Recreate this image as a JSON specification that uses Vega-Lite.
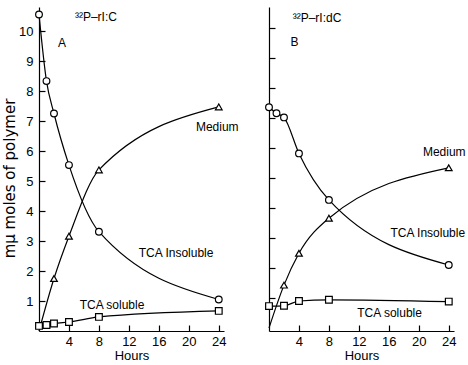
{
  "$schema": "https://vega.github.io/schema/vega-lite/v6.json",
  "background": "white",
  "padding": {"left": 2, "top": 7, "right": 0, "bottom": 0},
  "spacing": 24,
  "config": {
    "view": {"stroke": null},
    "font": "Liberation Sans",
    "axis": {
      "domainColor": "black",
      "tickColor": "black",
      "labelColor": "black",
      "titleColor": "black",
      "grid": false,
      "labelFontSize": 13,
      "titleFontSize": 13,
      "titleFontWeight": "normal",
      "tickSize": -6,
      "domainWidth": 1.2,
      "tickWidth": 1.2,
      "tickCount": 30,
      "format": "d",
      "labelOverlap": false
    }
  },
  "datasets": {
    "pts": [
      {"panel": "A", "series": "TCA Insoluble", "hours": 0, "value": 10.55},
      {"panel": "A", "series": "TCA Insoluble", "hours": 1, "value": 8.33},
      {"panel": "A", "series": "TCA Insoluble", "hours": 2, "value": 7.25},
      {"panel": "A", "series": "TCA Insoluble", "hours": 4, "value": 5.53},
      {"panel": "A", "series": "TCA Insoluble", "hours": 8, "value": 3.31},
      {"panel": "A", "series": "TCA Insoluble", "hours": 24, "value": 1.05},
      {"panel": "A", "series": "Medium", "hours": 0, "value": 0},
      {"panel": "A", "series": "Medium", "hours": 2, "value": 1.75},
      {"panel": "A", "series": "Medium", "hours": 4, "value": 3.16},
      {"panel": "A", "series": "Medium", "hours": 8, "value": 5.37},
      {"panel": "A", "series": "Medium", "hours": 24, "value": 7.47},
      {"panel": "A", "series": "TCA soluble", "hours": 0, "value": 0.17},
      {"panel": "A", "series": "TCA soluble", "hours": 1, "value": 0.2},
      {"panel": "A", "series": "TCA soluble", "hours": 2, "value": 0.25},
      {"panel": "A", "series": "TCA soluble", "hours": 4, "value": 0.3},
      {"panel": "A", "series": "TCA soluble", "hours": 8, "value": 0.47},
      {"panel": "A", "series": "TCA soluble", "hours": 24, "value": 0.67},
      {"panel": "B", "series": "TCA Insoluble", "hours": 0, "value": 7.36},
      {"panel": "B", "series": "TCA Insoluble", "hours": 1, "value": 7.16},
      {"panel": "B", "series": "TCA Insoluble", "hours": 2, "value": 7.02},
      {"panel": "B", "series": "TCA Insoluble", "hours": 4, "value": 5.82},
      {"panel": "B", "series": "TCA Insoluble", "hours": 8, "value": 4.27},
      {"panel": "B", "series": "TCA Insoluble", "hours": 24, "value": 2.1},
      {"panel": "B", "series": "Medium", "hours": 0, "value": 0},
      {"panel": "B", "series": "Medium", "hours": 2, "value": 1.43},
      {"panel": "B", "series": "Medium", "hours": 4, "value": 2.49},
      {"panel": "B", "series": "Medium", "hours": 8, "value": 3.66},
      {"panel": "B", "series": "Medium", "hours": 24, "value": 5.34},
      {"panel": "B", "series": "TCA soluble", "hours": 0, "value": 0.73},
      {"panel": "B", "series": "TCA soluble", "hours": 2, "value": 0.74},
      {"panel": "B", "series": "TCA soluble", "hours": 4, "value": 0.9},
      {"panel": "B", "series": "TCA soluble", "hours": 8, "value": 0.94},
      {"panel": "B", "series": "TCA soluble", "hours": 24, "value": 0.88}
    ],
    "notes": [
      {"panel": "A", "label": "³²P–rI:C", "hours": 4.8, "value": 10.47, "kind": "head"},
      {"panel": "A", "label": "A", "hours": 3.07, "value": 9.6, "kind": "mid"},
      {"panel": "A", "label": "Medium", "hours": 23.8, "value": 6.8, "kind": "mid"},
      {"panel": "A", "label": "TCA Insoluble", "hours": 18.3, "value": 2.6, "kind": "mid"},
      {"panel": "A", "label": "TCA soluble", "hours": 9.75, "value": 0.87, "kind": "mid"},
      {"panel": "B", "label": "³²P–rI:dC", "hours": 3.16, "value": 10.33, "kind": "head"},
      {"panel": "B", "label": "B", "hours": 3.4, "value": 9.53, "kind": "mid"},
      {"panel": "B", "label": "Medium", "hours": 23.4, "value": 5.87, "kind": "mid"},
      {"panel": "B", "label": "TCA Insoluble", "hours": 21.2, "value": 3.17, "kind": "mid"},
      {"panel": "B", "label": "TCA soluble", "hours": 16.1, "value": 0.5, "kind": "mid"}
    ]
  },
  "hconcat": [
    {
      "width": 185,
      "height": 324,
      "layer": [
        {
          "data": {"name": "pts"},
          "transform": [{"filter": "datum.panel === 'A'"}],
          "mark": {"type": "line", "interpolate": "monotone", "color": "black", "strokeWidth": 1.2},
          "encoding": {
            "x": {"field": "hours", "type": "quantitative", "scale": {"domain": [0, 24.7], "nice": false},
              "axis": {"values": [4, 8, 12, 16, 20, 24], "title": "Hours", "labelPadding": 10, "titlePadding": 1, "labelOverlap": false, "labelBound": false}},
            "y": {"field": "value", "type": "quantitative", "scale": {"domain": [0, 10.8], "nice": false, "zero": false},
              "axis": {"values": [1, 2, 3, 4, 5, 6, 7, 8, 9, 10], "title": "mμ moles of polymer", "titleFont": "DejaVu Sans", "titleFontSize": 15, "titleY": 171, "labelPadding": 12, "titlePadding": 1, "labelOverlap": false, "labelBound": false}},
            "detail": {"field": "series"}
          }
        },
        {
          "data": {"name": "pts"},
          "transform": [{"filter": "datum.panel === 'A' && datum.value > 0"}],
          "mark": {"type": "point", "filled": true, "fill": "white", "stroke": "black", "strokeWidth": 1.2, "size": 45, "opacity": 1},
          "encoding": {
            "x": {"field": "hours", "type": "quantitative"},
            "y": {"field": "value", "type": "quantitative"},
            "shape": {"field": "series", "type": "nominal", "scale": {"domain": ["TCA Insoluble", "Medium", "TCA soluble"], "range": ["circle", "triangle-up", "square"]}, "legend": null}
          }
        },
        {
          "data": {"name": "notes"},
          "transform": [{"filter": "datum.panel === 'A' && datum.kind === 'mid'"}],
          "mark": {"type": "text", "fontSize": 12, "align": "center", "baseline": "middle", "color": "black"},
          "encoding": {
            "x": {"field": "hours", "type": "quantitative"},
            "y": {"field": "value", "type": "quantitative"},
            "text": {"field": "label"}
          }
        },
        {
          "data": {"name": "notes"},
          "transform": [{"filter": "datum.panel === 'A' && datum.kind === 'head'"}],
          "mark": {"type": "text", "fontSize": 12, "align": "left", "baseline": "middle", "color": "black"},
          "encoding": {
            "x": {"field": "hours", "type": "quantitative"},
            "y": {"field": "value", "type": "quantitative"},
            "text": {"field": "label"}
          }
        }
      ]
    },
    {
      "width": 185,
      "height": 324,
      "layer": [
        {
          "data": {"name": "pts"},
          "transform": [{"filter": "datum.panel === 'B'"}],
          "mark": {"type": "line", "interpolate": "monotone", "color": "black", "strokeWidth": 1.2},
          "encoding": {
            "x": {"field": "hours", "type": "quantitative", "scale": {"domain": [0, 24.7], "nice": false},
              "axis": {"values": [4, 8, 12, 16, 20, 24], "title": "Hours", "labelPadding": 10, "titlePadding": 1, "labelOverlap": false, "labelBound": false}},
            "y": {"field": "value", "type": "quantitative", "scale": {"domain": [-0.1, 10.7], "nice": false, "zero": false},
              "axis": {"values": [1, 2, 3, 4, 5, 6, 7, 8, 9, 10], "title": null, "labels": false}},
            "detail": {"field": "series"}
          }
        },
        {
          "data": {"name": "pts"},
          "transform": [{"filter": "datum.panel === 'B' && datum.value > 0"}],
          "mark": {"type": "point", "filled": true, "fill": "white", "stroke": "black", "strokeWidth": 1.2, "size": 45, "opacity": 1},
          "encoding": {
            "x": {"field": "hours", "type": "quantitative"},
            "y": {"field": "value", "type": "quantitative"},
            "shape": {"field": "series", "type": "nominal", "scale": {"domain": ["TCA Insoluble", "Medium", "TCA soluble"], "range": ["circle", "triangle-up", "square"]}, "legend": null}
          }
        },
        {
          "data": {"name": "notes"},
          "transform": [{"filter": "datum.panel === 'B' && datum.kind === 'mid'"}],
          "mark": {"type": "text", "fontSize": 12, "align": "center", "baseline": "middle", "color": "black"},
          "encoding": {
            "x": {"field": "hours", "type": "quantitative"},
            "y": {"field": "value", "type": "quantitative"},
            "text": {"field": "label"}
          }
        },
        {
          "data": {"name": "notes"},
          "transform": [{"filter": "datum.panel === 'B' && datum.kind === 'head'"}],
          "mark": {"type": "text", "fontSize": 12, "align": "left", "baseline": "middle", "color": "black"},
          "encoding": {
            "x": {"field": "hours", "type": "quantitative"},
            "y": {"field": "value", "type": "quantitative"},
            "text": {"field": "label"}
          }
        }
      ]
    }
  ]
}
